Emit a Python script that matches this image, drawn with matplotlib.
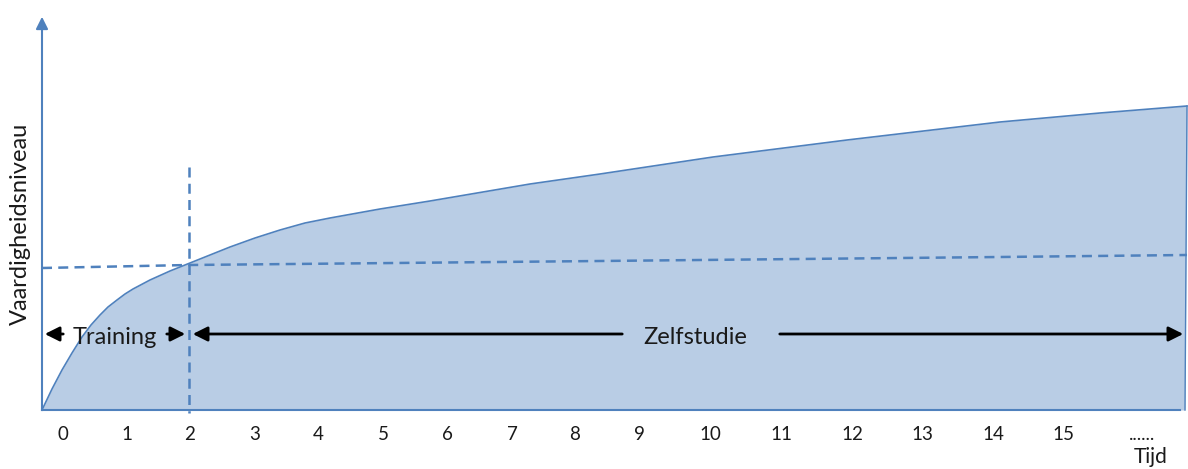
import matplotlib.pyplot as plt

# Leercurve (positie in beeld, niveau)
curve_x = [42, 52, 62, 72, 82, 91, 100, 108, 117, 125, 133, 150, 170, 190,
           230, 255, 280, 305, 330, 380, 430, 480, 530, 600, 713, 847, 1000,
           1100, 1187]
curve_y = [410, 389, 370, 353, 337, 325, 315, 307, 300, 294, 289, 280, 271,
           263, 247, 238, 230, 223, 218, 209, 201, 192.5, 184, 174, 157, 140,
           122, 113, 106]

# Horizontale stippellijn (niveau na training)
level_x = [42, 189, 600, 1000, 1187]
level_y = [268, 265, 261, 257, 255]

tick_labels = ['0', '1', '2', '3', '4', '5', '6', '7', '8', '9', '10',
               '11', '12', '13', '14', '15', '......']
tick_pos = [63, 127, 190, 255, 318, 383, 447, 512, 575, 639, 710, 781,
            852, 922, 993, 1063, 1142]

blue = '#4F81BD'
fill = '#B9CDE5'
font = ['Lato', 'DejaVu Sans']

fig = plt.figure(figsize=(11.88, 4.69), dpi=100)
ax = fig.add_axes([0, 0, 1, 1])
ax.set_xlim(0, 1188)
ax.set_ylim(469, 0)
ax.axis('off')

# gevuld gebied onder de curve
ax.fill_between(curve_x + [1185], curve_y + [410], 410, color=fill, lw=0)
ax.plot(curve_x, curve_y, color=blue, lw=1.2)
ax.plot([1187, 1185], [106, 410], color=blue, lw=1.0)

# assen
ax.plot([42, 42], [410, 26], color=blue, lw=1.5)
ax.annotate('', xy=(42, 14), xytext=(42, 30),
            arrowprops=dict(arrowstyle='-|>', color=blue, lw=1.5, mutation_scale=18))
ax.plot([42, 1180], [410, 410], color=blue, lw=1.5)
ax.annotate('', xy=(1193, 411), xytext=(1178, 411),
            arrowprops=dict(arrowstyle='-|>', color=blue, lw=1.5, mutation_scale=14))

# stippellijnen
ax.plot(level_x, level_y, color=blue, lw=1.8, ls=(0, (4, 2.5)))
ax.plot([189, 189], [167, 413], color=blue, lw=1.8, ls=(0, (4, 2.5)))

# pijlen Training / Zelfstudie
arrow = dict(arrowstyle='-|>', color='black', lw=2, mutation_scale=22)
ax.annotate('', xy=(42, 334), xytext=(66, 334), arrowprops=arrow)
ax.annotate('', xy=(188, 334), xytext=(164, 334), arrowprops=arrow)
ax.annotate('', xy=(190, 334), xytext=(625, 334), arrowprops=arrow)
ax.annotate('', xy=(1186, 334), xytext=(777, 334), arrowprops=arrow)
ax.text(115, 337, 'Training', fontsize=17, family=font, ha='center', va='center', color='#1a1a1a')
ax.text(695, 337, 'Zelfstudie', fontsize=17, family=font, ha='center', va='center', color='#1a1a1a')

# as-labels
ax.text(20, 224, 'Vaardigheidsniveau', fontsize=17, family=font, rotation=90,
        ha='center', va='center', color='#1a1a1a')
for lbl, x in zip(tick_labels, tick_pos):
    ax.text(x, 434, lbl, fontsize=13.5, family=font, ha='center', va='center', color='#1a1a1a')
ax.text(1151, 457, 'Tijd', fontsize=15, family=font, ha='center', va='center', color='#1a1a1a')

plt.savefig('out.png', dpi=100)
